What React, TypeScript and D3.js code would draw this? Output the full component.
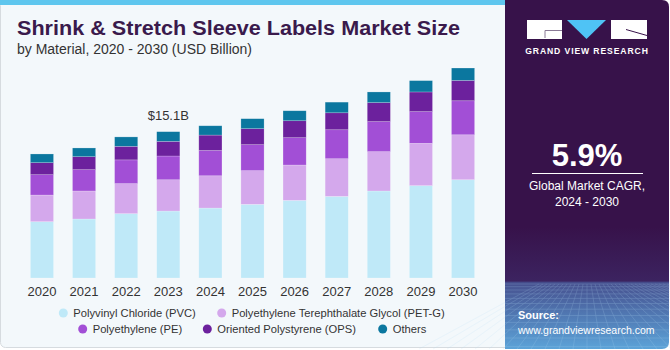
import { useEffect, useRef } from 'react';
import * as d3 from 'd3';

const years = ['2020', '2021', '2022', '2023', '2024', '2025', '2026', '2027', '2028', '2029', '2030'];
const seriesNames = [
  'Polyvinyl Chloride (PVC)',
  'Polyethylene Terephthalate Glycol (PET-G)',
  'Polyethylene (PE)',
  'Oriented Polystyrene (OPS)',
  'Others',
];
const pvc = [5.81, 6.09, 6.64, 6.91, 7.22, 7.6, 8.01, 8.42, 8.98, 9.53, 10.14];
const petg = [2.75, 2.89, 3.1, 3.23, 3.33, 3.48, 3.65, 3.89, 4.06, 4.37, 4.64];
const pe = [2.1, 2.2, 2.45, 2.45, 2.61, 2.68, 2.82, 2.99, 3.1, 3.27, 3.51];
const ops = [1.24, 1.34, 1.4, 1.51, 1.59, 1.65, 1.75, 1.75, 1.96, 2.03, 2.1];
const others = [0.9, 0.9, 0.97, 1.0, 0.96, 1.03, 1.03, 1.1, 1.1, 1.17, 1.28];
const colors = ['#bfe9f8', '#d4a8ec', '#a24fd6', '#6c219d', '#0b779f'];
const annotationYear = '2023';
const annotationText = '$15.1B';

const W = 670;
const H = 350;
const FONT = '"Liberation Sans", Arial, sans-serif';

export default function App() {
  const svgRef = useRef<SVGSVGElement>(null);

  useEffect(() => {
    const svg = d3.select(svgRef.current);
    svg.selectAll('*').remove();

    const defs = svg.append('defs');
    const grad = defs.append('linearGradient')
      .attr('id', 'panelGrad')
      .attr('x1', 0).attr('y1', 0).attr('x2', 0).attr('y2', 1);
    grad.append('stop').attr('offset', '0%').attr('stop-color', '#37124a');
    grad.append('stop').attr('offset', '65%').attr('stop-color', '#37124a');
    grad.append('stop').attr('offset', '80.5%').attr('stop-color', '#3c2360');
    grad.append('stop').attr('offset', '81%').attr('stop-color', '#46508f');
    grad.append('stop').attr('offset', '100%').attr('stop-color', '#5ca3d8');

    // left panel
    svg.append('rect')
      .attr('x', 0.5).attr('y', 0.5)
      .attr('width', 512).attr('height', 347)
      .attr('rx', 5)
      .attr('fill', '#f3f8fb')
      .attr('stroke', '#d6dbdf');
    svg.append('rect')
      .attr('x', 0).attr('y', 0)
      .attr('width', 506).attr('height', 5)
      .attr('fill', '#5ec6ee');

    // right panel
    svg.append('path')
      .attr('d', 'M505,0 H662 Q669,0 669,7 V342 Q669,349 662,349 H505 Z')
      .attr('fill', 'url(#panelGrad)');

    // faint grid texture at the bottom of the panel
    const gridG = svg.append('g').attr('opacity', 0.3).attr('stroke', '#b5ddf7').attr('stroke-width', 0.6);
    d3.range(0, 16).forEach(i => {
      const yy = 284 + i * i * 0.3 + i * 2.4;
      if (yy < 349) gridG.append('line').attr('x1', 505).attr('x2', 669).attr('y1', yy).attr('y2', yy);
    });
    d3.range(-12, 24).forEach(i => {
      gridG.append('line')
        .attr('x1', 587 + i * 4).attr('y1', 284)
        .attr('x2', 587 + i * 14).attr('y2', 349);
    });

    // title
    svg.append('text')
      .attr('x', 17).attr('y', 35)
      .attr('font-family', FONT)
      .attr('font-weight', 900)
      .attr('font-size', 20)
      .attr('fill', '#3a1a4c')
      .attr('textLength', 443)
      .attr('lengthAdjust', 'spacingAndGlyphs')
      .text('Shrink & Stretch Sleeve Labels Market Size');
    svg.append('text')
      .attr('x', 17).attr('y', 54)
      .attr('font-family', FONT)
      .attr('font-size', 14)
      .attr('fill', '#333')
      .text('by Material, 2020 - 2030 (USD Billion)');

    // chart
    const x = d3.scaleBand<string>()
      .domain(years)
      .range([20.9, 484.1])
      .paddingInner(0.45)
      .paddingOuter(0.225);
    const y = d3.scaleLinear().domain([0, 20]).range([278, 84.2]);

    const table = years.map((yr, i) => ({
      year: yr,
      s0: pvc[i], s1: petg[i], s2: pe[i], s3: ops[i], s4: others[i],
    }));
    const keys = ['s0', 's1', 's2', 's3', 's4'];
    const stacked = d3.stack<any>().keys(keys)(table);

    const g = svg.append('g');
    stacked.forEach((layer, li) => {
      g.append('g')
        .attr('fill', colors[li])
        .selectAll('rect')
        .data(layer)
        .enter()
        .append('rect')
        .attr('x', d => x(d.data.year)!)
        .attr('width', x.bandwidth())
        .attr('y', d => y(d[1]))
        .attr('height', d => y(d[0]) - y(d[1]))
        .attr('stroke', '#ffffff')
        .attr('stroke-opacity', 0.35)
        .attr('stroke-width', 0.6);
    });

    // annotation
    const annIdx = years.indexOf(annotationYear);
    const annTop = d3.sum([pvc, petg, pe, ops, others], s => s[annIdx]);
    svg.append('text')
      .attr('x', x(annotationYear)! + x.bandwidth() / 2)
      .attr('y', y(annTop) - 12)
      .attr('text-anchor', 'middle')
      .attr('font-family', FONT)
      .attr('font-size', 13)
      .attr('fill', '#333')
      .text(annotationText);

    // x axis labels
    const axis = svg.append('g')
      .attr('transform', 'translate(0,278)')
      .call(d3.axisBottom(x).tickSize(0).tickPadding(9));
    axis.select('.domain').remove();
    axis.selectAll('text')
      .attr('font-family', FONT)
      .attr('font-size', 13)
      .attr('fill', '#333');

    // legend
    const rows = [
      { y: 313, items: [0, 1], cx: [63.3, 221.7] },
      { y: 329, items: [2, 3, 4], cx: [82.7, 207.3, 382.7] },
    ];
    rows.forEach(row => {
      row.items.forEach((si, k) => {
        svg.append('circle')
          .attr('cx', row.cx[k]).attr('cy', row.y)
          .attr('r', 4.5)
          .attr('fill', colors[si]);
        svg.append('text')
          .attr('x', row.cx[k] + 10).attr('y', row.y + 4)
          .attr('font-family', FONT)
          .attr('font-size', 11.2)
          .attr('fill', '#333')
          .text(seriesNames[si]);
      });
    });

    // logo
    const logo = svg.append('g');
    logo.append('rect').attr('x', 527).attr('y', 20).attr('width', 35).attr('height', 19).attr('fill', '#fff');
    logo.append('path').attr('d', 'M562,30.5 H545 V38').attr('fill', 'none').attr('stroke', '#8a7a96').attr('stroke-width', 1);
    logo.append('path').attr('d', 'M567,20 H606 L586.5,39 Z').attr('fill', '#4fc3f5');
    logo.append('rect').attr('x', 611).attr('y', 20).attr('width', 36).attr('height', 19).attr('fill', '#fff');
    logo.append('path').attr('d', 'M626,29.5 L647,35.5').attr('stroke', '#37124a').attr('stroke-width', 1);
    logo.append('text')
      .attr('x', 587).attr('y', 53.5)
      .attr('text-anchor', 'middle')
      .attr('font-family', FONT)
      .attr('font-weight', 700)
      .attr('font-size', 8.6)
      .attr('letter-spacing', 0.9)
      .attr('fill', '#fff')
      .text('GRAND VIEW RESEARCH');

    // CAGR
    svg.append('text')
      .attr('x', 587).attr('y', 166)
      .attr('text-anchor', 'middle')
      .attr('font-family', FONT)
      .attr('font-weight', 700)
      .attr('font-size', 31)
      .attr('fill', '#fff')
      .text('5.9%');
    svg.append('line')
      .attr('x1', 532).attr('x2', 643)
      .attr('y1', 173.5).attr('y2', 173.5)
      .attr('stroke', '#fff').attr('stroke-width', 1);
    svg.append('text')
      .attr('x', 587).attr('y', 190)
      .attr('text-anchor', 'middle')
      .attr('font-family', FONT)
      .attr('font-size', 12)
      .attr('fill', '#fff')
      .text('Global Market CAGR,');
    svg.append('text')
      .attr('x', 587).attr('y', 206)
      .attr('text-anchor', 'middle')
      .attr('font-family', FONT)
      .attr('font-size', 12)
      .attr('fill', '#fff')
      .text('2024 - 2030');

    // source
    svg.append('text')
      .attr('x', 518).attr('y', 319)
      .attr('font-family', FONT)
      .attr('font-weight', 700)
      .attr('font-size', 11)
      .attr('fill', '#fff')
      .text('Source:');
    svg.append('text')
      .attr('x', 518).attr('y', 334)
      .attr('font-family', FONT)
      .attr('font-size', 10.5)
      .attr('fill', '#fff')
      .text('www.grandviewresearch.com');
  }, []);

  return (
    <div style={{ position: 'fixed', left: 0, top: 0, width: W, height: H, background: '#fff' }}>
      <svg ref={svgRef} width={W} height={H}></svg>
    </div>
  );
}
